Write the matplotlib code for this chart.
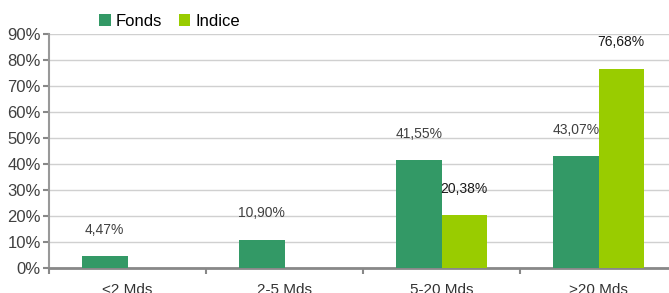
import matplotlib.pyplot as plt
import numpy as np

plt.rcParams['font.family'] = ['Liberation Sans', 'DejaVu Sans']

categories = ['<2 Mds', '2-5 Mds', '5-20 Mds', '>20 Mds']
fonds = [4.47, 10.90, 41.55, 43.07]
indice = [None, None, 20.38, 76.68]
yticks = [0, 10, 20, 30, 40, 50, 60, 70, 80, 90]

c_fonds = '#339966'
c_indice = '#99CC00'

W, H = 669, 293
fig = plt.figure(figsize=(W / 100, H / 100), dpi=100)
ax = fig.add_axes([49 / W, 25 / H, 628 / W, 234 / H])

x = np.arange(len(categories))
bw = 0.29
fv = [v for v in fonds]
iv = [v if v is not None else 0 for v in indice]
b1 = ax.bar(x - bw / 2, fv, bw, color=c_fonds, label='Fonds', zorder=3)
b2 = ax.bar(x + bw / 2, iv, bw, color=c_indice, label='Indice', zorder=3)

def fmt(v):
    return ('%.2f' % v).replace('.', ',') + '%'

for xi, v in zip(x, fonds):
    ax.annotate(fmt(v), (xi - bw / 2, v), xytext=(0, 14), textcoords='offset points',
                ha='center', va='bottom', fontsize=10, color='#404040')
for xi, v in zip(x, indice):
    if v is None:
        continue
    ax.annotate(fmt(v), (xi + bw / 2, v), xytext=(0, 14), textcoords='offset points',
                ha='center', va='bottom', fontsize=10, color='#1a1a1a')

ax.set_xlim(-0.5, 3.5)
ax.set_ylim(0, 90)
ax.set_yticks(yticks)
ax.set_yticklabels([f'{t}%' for t in yticks], fontsize=12, color='#404040')
ax.yaxis.grid(True, color='#d0d0d0', linewidth=1, zorder=0)
ax.set_axisbelow(True)

ax.set_xticks(x)
ax.set_xticklabels(categories, fontsize=11, color='#333333')
ax.set_xticks(np.arange(-0.5, 4, 1), minor=True)
ax.tick_params(axis='x', which='major', length=0, pad=11)
ax.tick_params(axis='x', which='minor', length=4, color='#888888', width=1.5)
ax.tick_params(axis='y', length=4, color='#888888', width=1.5, pad=2)

for s in ['top', 'right']:
    ax.spines[s].set_visible(False)
ax.spines['left'].set_color('#999999')
ax.spines['left'].set_linewidth(1.5)
ax.spines['bottom'].set_color('#888888')
ax.spines['bottom'].set_linewidth(2)

fig.legend(handles=[b1, b2], loc='center left', bbox_to_anchor=(99 / W, 1 - 21 / H),
           ncol=2, frameon=False, fontsize=12, handlelength=0.7, handleheight=0.7,
           handletextpad=0.3, columnspacing=1.0, borderpad=0, borderaxespad=0)

fig.savefig('out.png', dpi=100)
